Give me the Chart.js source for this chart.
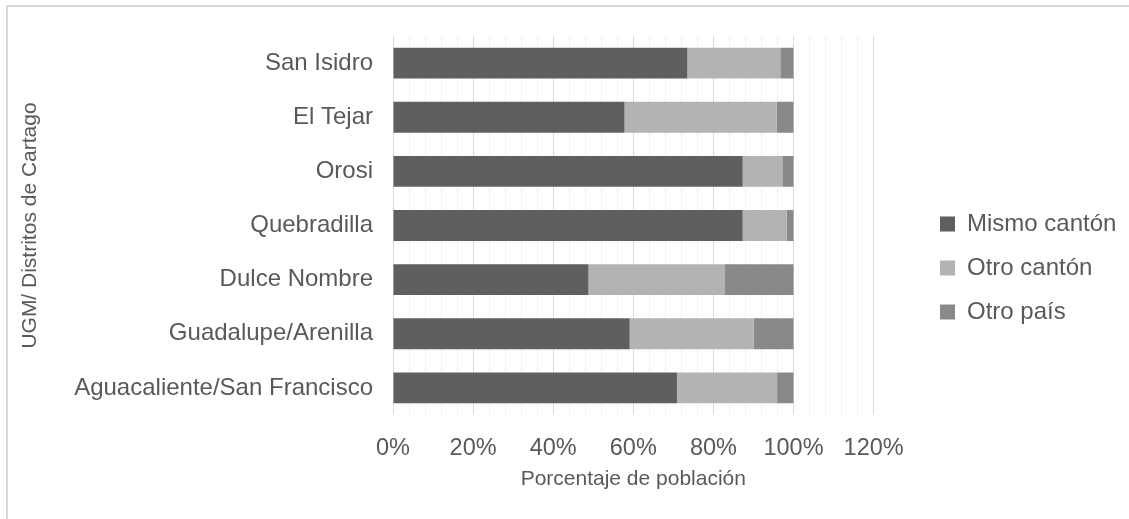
<!DOCTYPE html>
<html>
<head>
<meta charset="utf-8">
<script src="https://cdn.jsdelivr.net/npm/chart.js@4"></script>
<style>
    html, body { margin: 0; padding: 0; background: #ffffff; }
    .wrap { position: relative; width: 1129px; height: 519px; overflow: hidden; }
    .marco { position: absolute; left: 6px; top: 5px; width: 1200px; height: 600px;
             border-left: 2px solid #d9d9d9; border-top: 2px solid #d9d9d9; }
    canvas { position: absolute; left: 0; top: 0; }
</style>
</head>
<body>
<div class="wrap">
    <div class="marco"></div>
    <canvas id="grafico" width="1129" height="519"></canvas>
</div>
<script>
const distritos = ['San Isidro', 'El Tejar', 'Orosi', 'Quebradilla', 'Dulce Nombre', 'Guadalupe/Arenilla', 'Aguacaliente/San Francisco'];
const mismoCanton = [73.5, 57.8, 87.3, 87.3, 48.8, 59.1, 70.9];
const otroCanton = [23.2, 38.0, 9.9, 11.0, 34.1, 31.0, 25.0];
const otroPais = [3.3, 4.2, 2.8, 1.7, 17.1, 9.9, 4.1];

const gris = '#595959';
const fuente = 'Liberation Sans, Arial, sans-serif';

// la leyenda queda separada del area del grafico, como en Excel
const moverLeyenda = {
    id: 'moverLeyenda',
    afterLayout(chart) {
        const lg = chart.legend;
        const ancho = lg.right - lg.left;
        lg.left = 920;
        lg.right = 920 + ancho;
        lg.top += 4;
        lg.bottom += 4;
    }
};

const canvas = document.getElementById('grafico');
const grafico = new Chart(canvas, {
    type: 'bar',
    data: {
        labels: distritos,
        datasets: [
            { label: 'Mismo cantón', data: mismoCanton, backgroundColor: '#5f5f5f' },
            { label: 'Otro cantón', data: otroCanton, backgroundColor: '#b3b3b3' },
            { label: 'Otro país', data: otroPais, backgroundColor: '#898989' }
        ]
    },
    options: {
        indexAxis: 'y',
        responsive: false,
        animation: false,
        datasets: {
            bar: { categoryPercentage: 1, barPercentage: 0.57 }
        },
        layout: {
            padding: { left: 14, top: 36, right: 49, bottom: 27 }
        },
        scales: {
            x: {
                stacked: true,
                min: 0,
                max: 120,
                border: { display: false },
                afterFit: (s) => { s.height = 77; },
                grid: {
                    drawTicks: false,
                    color: (ctx) => (ctx.tick && ctx.tick.value % 20 === 0) ? '#d9d9d9' : '#f0f0f0',
                    lineWidth: 1
                },
                ticks: {
                    stepSize: 4,
                    autoSkip: false,
                    maxRotation: 0,
                    padding: 19,
                    color: gris,
                    font: { family: fuente, size: 23.5 },
                    callback: (v) => v % 20 === 0 ? v + '%' : ''
                },
                title: {
                    display: true,
                    text: 'Porcentaje de población',
                    color: gris,
                    font: { family: fuente, size: 21 },
                    padding: 0
                }
            },
            y: {
                stacked: true,
                border: { display: false },
                afterFit: (s) => { s.width = 379; },
                grid: { display: false, drawTicks: false },
                ticks: {
                    padding: 20,
                    color: gris,
                    font: { family: fuente, size: 24 }
                },
                title: {
                    display: true,
                    text: 'UGM/ Distritos de Cartago',
                    color: gris,
                    font: { family: fuente, size: 21 },
                    padding: { top: 4, bottom: 0 }
                }
            }
        },
        plugins: {
            tooltip: { enabled: false },
            legend: {
                position: 'right',
                labels: {
                    color: gris,
                    font: { family: fuente, size: 24 },
                    boxWidth: 15,
                    boxHeight: 15,
                    padding: 20
                }
            }
        }
    },
    plugins: [moverLeyenda]
});
</script>
</body>
</html>
